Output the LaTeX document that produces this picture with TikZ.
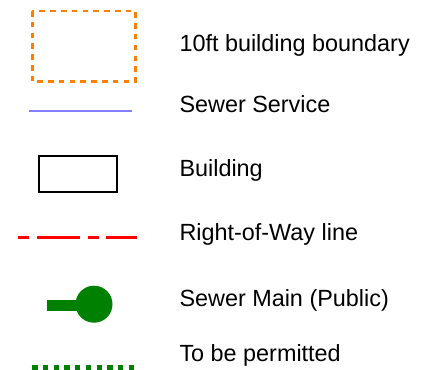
\documentclass[tikz,border=0pt]{standalone}
\usepackage{fontspec}
\setmainfont{Liberation Sans}
\begin{document}
\begin{tikzpicture}[x=1pt,y=-1pt,
  lbl/.style={anchor=base west,inner sep=0pt,font=\fontsize{23.4}{27}\selectfont},
  bndry/.style={draw={rgb,255:red,255;green,128;blue,0},line width=2.5pt,dash pattern=on 5.5pt off 5.3pt},
  sewer/.style={draw={rgb,255:red,128;green,128;blue,255},line width=2.3pt},
  bldg/.style={draw=black,line width=2pt},
  row/.style={draw={rgb,255:red,255;green,0;blue,0},line width=2.7pt,dash pattern=on 11pt off 7.7pt on 43pt off 7.7pt},
  mainsym/.style={fill={rgb,255:red,0;green,128;blue,0}},
  permit/.style={draw={rgb,255:red,0;green,128;blue,0},line width=5pt,dash pattern=on 5.3pt off 5.4pt}]
\useasboundingbox (0,0) rectangle (440,370);
% symbols
\draw[bndry] (32.3,11) rectangle (135.3,81.7);
\draw[sewer] (29.3,110.7) -- (131.7,110.7);
\draw[bldg] (39,156) rectangle (116.7,192);
\draw[row] (18.3,237.3) -- (137.3,237.3);
\fill[mainsym] (47.3,300) rectangle (80,310.7);
\fill[mainsym] (94,304.2) circle (18.5);
\draw[permit] (32.3,367.5) -- (133.7,367.5);
% labels
\node[lbl] (t1) at (179.3,51.7) {10ft building boundary};
\node[lbl] (t2) at (179.3,112.3) {Sewer Service};
\node[lbl] (t3) at (179.3,176.7) {Building};
\node[lbl] (t4) at (179.3,240.7) {Right-of-Way line};
\node[lbl] (t5) at (179.3,306.7) {Sewer Main (Public)};
\node[lbl] (t6) at (179.3,361.7) {To be permitted};
\end{tikzpicture}
\end{document}
